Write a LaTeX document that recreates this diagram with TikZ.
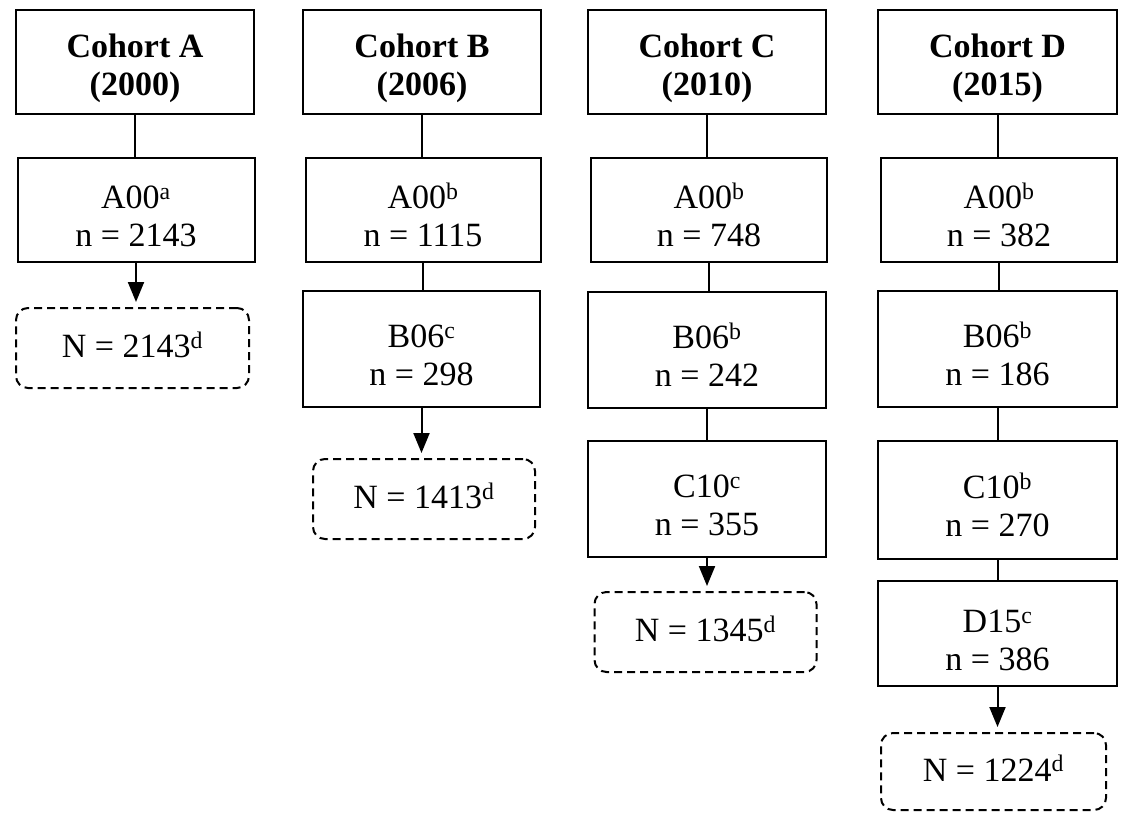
\documentclass[tikz,border=0pt]{standalone}
\usepackage{fontspec}
\setmainfont{Liberation Serif}
\usetikzlibrary{arrows.meta}
\newcommand{\tstr}{\rule{0pt}{36pt}}
\newcommand{\nstr}{\rule[-12pt]{0pt}{43pt}}
\begin{document}
\begin{tikzpicture}[x=1pt,y=-1pt,
  every node/.style={inner sep=0pt, align=center, font=\fontsize{34}{38}\selectfont},
  hdr/.style={draw, line width=2pt, minimum width=238pt, minimum height=104pt, font=\fontsize{34}{38}\selectfont\bfseries},
  sbox/.style={draw, line width=2pt, minimum width=237pt, minimum height=104pt},
  tall/.style={sbox, minimum height=116pt},
  tot/.style={draw, line width=2pt, dash pattern=on 8pt off 5pt, rounded corners=12pt, minimum width=222pt, minimum height=80pt},
  conn/.style={line width=2pt},
  arr/.style={line width=2pt, -{Triangle[width=16pt,length=20pt]}, shorten >=5pt}
]
\useasboundingbox (0,0) rectangle (1123,812);
\fill[white] (0,0) rectangle (1123,812);
% Column A
\node[hdr] (ha) at (135,62) {\tstr Cohort A\\(2000)};
\node[sbox] (a1) at (136,210) {\tstr A00\textsuperscript{a}\\n = 2143};
\node[tot, minimum width=233pt] (ta) at (132.5,348) {\nstr N = 2143\textsuperscript{d}};
% Column B
\node[hdr] (hb) at (422,62) {\tstr Cohort B\\(2006)};
\node[sbox, minimum width=235pt] (b1) at (423,210) {\tstr A00\textsuperscript{b}\\n = 1115};
\node[tall] (b2) at (421.5,349) {\tstr B06\textsuperscript{c}\\n = 298};
\node[tot] (tb) at (424,499) {\nstr N = 1413\textsuperscript{d}};
% Column C
\node[hdr] (hc) at (707,62) {\tstr Cohort C\\(2010)};
\node[sbox, minimum width=236pt] (c1) at (709,210) {\tstr A00\textsuperscript{b}\\n = 748};
\node[tall, minimum width=238pt] (c2) at (707,349.5) {\tstr B06\textsuperscript{b}\\n = 242};
\node[tall, minimum width=238pt] (c3) at (707,499) {\tstr C10\textsuperscript{c}\\n = 355};
\node[tot] (tc) at (705.5,632) {\nstr N = 1345\textsuperscript{d}};
% Column D
\node[hdr, minimum width=239pt] (hd) at (997.5,62) {\tstr Cohort D\\(2015)};
\node[sbox, minimum width=236pt] (d1) at (999,210) {\tstr A00\textsuperscript{b}\\n = 382};
\node[tall, minimum width=239pt] (d2) at (997.5,349) {\tstr B06\textsuperscript{b}\\n = 186};
\node[tall, minimum width=239pt, minimum height=118pt] (d3) at (997.5,500) {\tstr C10\textsuperscript{b}\\n = 270};
\node[sbox, minimum width=239pt, minimum height=105pt] (d4) at (997.5,633.5) {\tstr D15\textsuperscript{c}\\n = 386};
\node[tot, minimum width=225pt, minimum height=77pt] (td) at (993.5,771.5) {\nstr N = 1224\textsuperscript{d}};
% Connectors
\draw[conn] (ha.south) -- (ha.south |- a1.north);
\draw[arr] (a1.south) -- (a1.south |- ta.north);
\draw[conn] (hb.south) -- (hb.south |- b1.north);
\draw[conn] (b1.south) -- (b1.south |- b2.north);
\draw[arr] (b2.south) -- (b2.south |- tb.north);
\draw[conn] (hc.south) -- (hc.south |- c1.north);
\draw[conn] (c1.south) -- (c1.south |- c2.north);
\draw[conn] (c2.south) -- (c2.south |- c3.north);
\draw[arr] (c3.south) -- (c3.south |- tc.north);
\draw[conn] (hd.south) -- (hd.south |- d1.north);
\draw[conn] (d1.south) -- (d1.south |- d2.north);
\draw[conn] (d2.south) -- (d2.south |- d3.north);
\draw[conn] (d3.south) -- (d3.south |- d4.north);
\draw[arr] (d4.south) -- (d4.south |- td.north);
\end{tikzpicture}
\end{document}
